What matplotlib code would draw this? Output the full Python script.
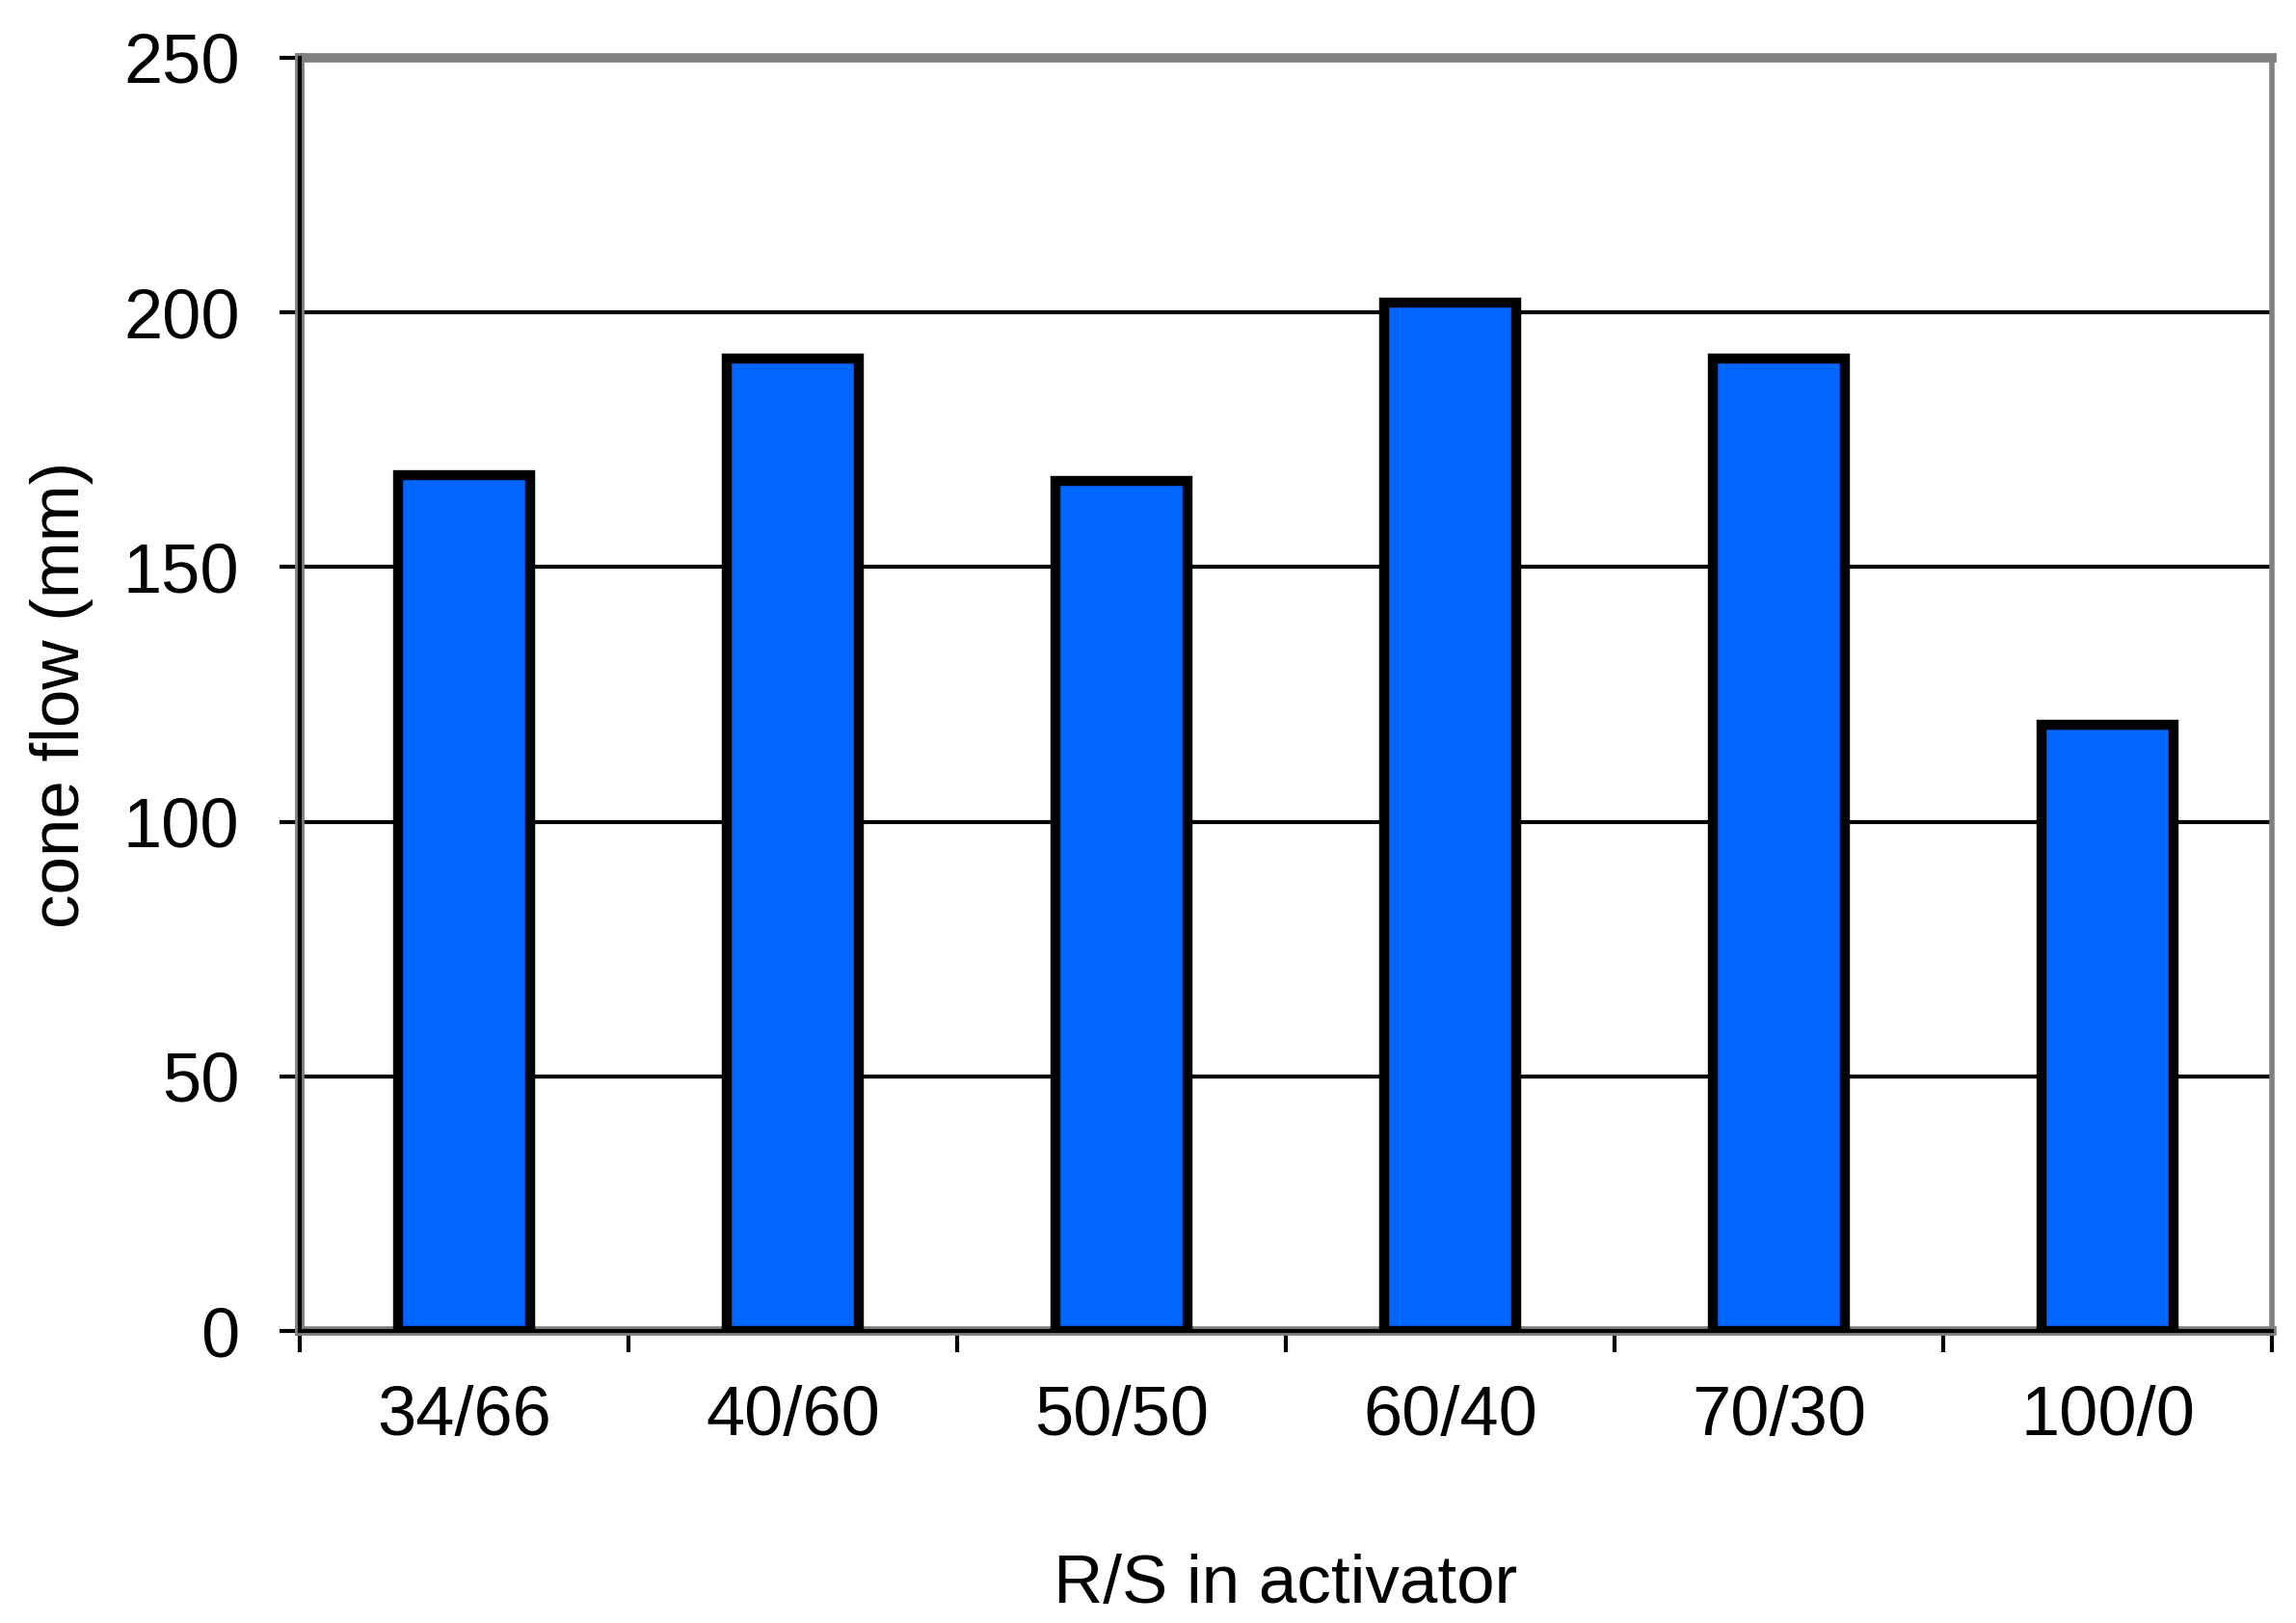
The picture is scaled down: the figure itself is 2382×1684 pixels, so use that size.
import matplotlib
matplotlib.use("Agg")
import matplotlib.pyplot as plt
import numpy as np

categories = ["34/66", "40/60", "50/50", "60/40", "70/30", "100/0"]
cone_flow = [168, 191, 167, 202, 191, 119]
y_ticks = [0, 50, 100, 150, 200, 250]

plt.rcParams['font.family'] = ['Liberation Sans', 'DejaVu Sans']

fig = plt.figure(figsize=(23.82, 16.84), dpi=100)
ax = fig.add_axes([311/2382, 303/1684, (2357-311)/2382, (1381-60)/1684])

x = np.arange(len(categories))
ax.bar(x, cone_flow, width=0.4, color="#0066FF", edgecolor="black",
       linewidth=7.5, zorder=3)

ax.set_xlim(-0.5, len(categories) - 0.5)
ax.set_ylim(0, 250)
ax.set_yticks(y_ticks)
ax.set_yticklabels([str(v) for v in y_ticks], fontsize=52)

# category labels centered, ticks at boundaries
ax.set_xticks(np.arange(-0.5, len(categories)), minor=False)
ax.set_xticklabels([""] * (len(categories) + 1))
ax.set_xticks(x, minor=True)
ax.set_xticklabels(categories, minor=True, fontsize=52)
ax.tick_params(axis='x', which='minor', length=0, pad=40)
ax.tick_params(axis='x', which='major', length=16, width=3, color='black', direction='out')
ax.tick_params(axis='y', length=15, width=3, color='black', direction='out', pad=30)

# gridlines
for v in y_ticks[1:-1]:
    ax.axhline(v, color='black', linewidth=3, zorder=1)

for side in ['top', 'left', 'bottom']:
    ax.spines[side].set_color('#808080')
    ax.spines[side].set_linewidth(7)
ax.spines['right'].set_color('#808080')
ax.spines['right'].set_linewidth(4)
# black axis lines over the grey frame
ax.plot([0, 0], [0, 1], transform=ax.transAxes, color='black', lw=3, zorder=5, clip_on=False)
ax.plot([0, 1], [0, 0], transform=ax.transAxes, color='black', lw=3, zorder=5, clip_on=False)

ax.set_ylabel("cone flow (mm)", fontsize=51, labelpad=22)
ax.set_xlabel("R/S in activator", fontsize=51, labelpad=78)

fig.savefig("out.png", dpi=100, facecolor='white')
